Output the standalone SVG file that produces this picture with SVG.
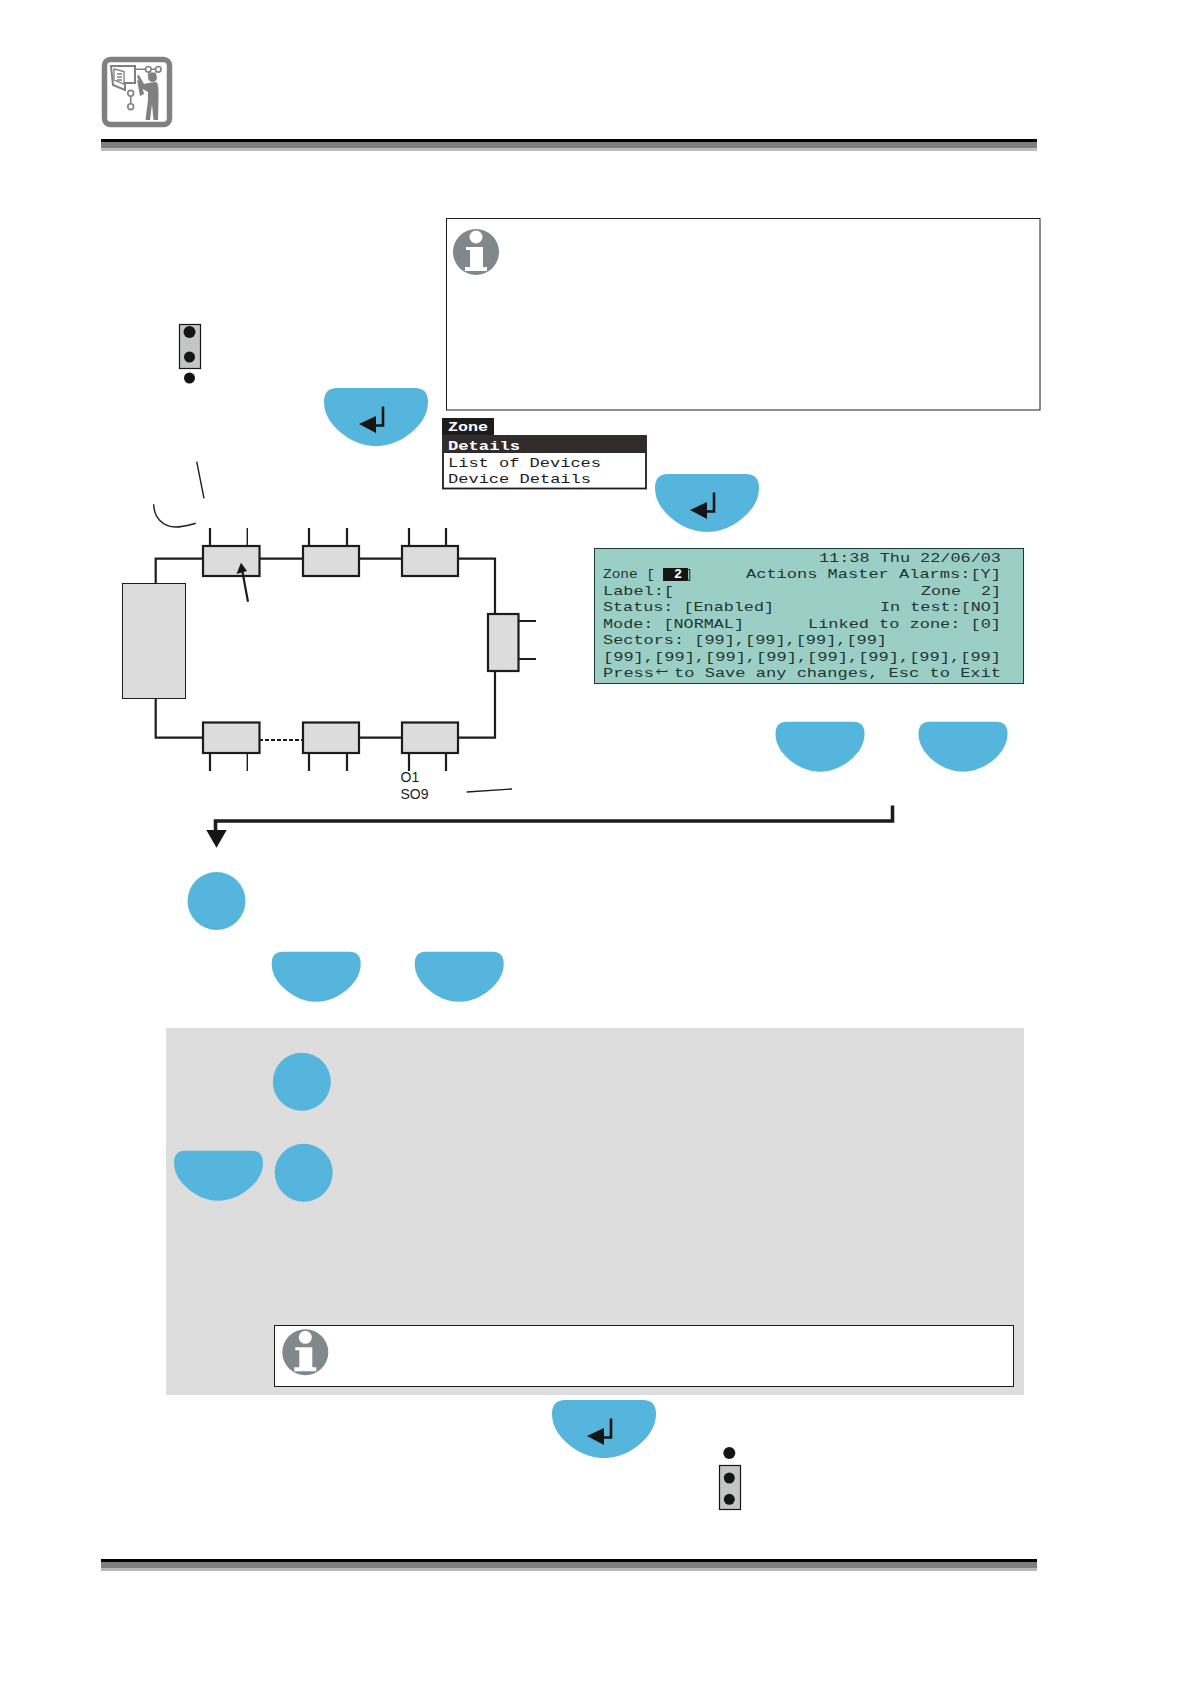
<svg xmlns="http://www.w3.org/2000/svg" width="1190" height="1684" viewBox="0 0 1190 1684">
<style>
.blue{fill:#56b5dc}
.dev{fill:#dcdcdc;stroke:#1c1c1c;stroke-width:2.2}
.wire{fill:none;stroke:#1c1c1c;stroke-width:2.200}
.thin{fill:none;stroke:#1c1c1c;stroke-width:1.400}
.box{fill:#fff;stroke:#1c1c1c;stroke-width:1}
.dot{fill:#151515}
.jump{fill:#c4c6c6;stroke:#151515;stroke-width:1.200}
.m{font-family:"Liberation Mono","DejaVu Sans Mono",monospace;font-size:13.500px;fill:#fff;font-weight:bold}
.l{font-family:"Liberation Mono","DejaVu Sans Mono",monospace;font-size:13px;fill:#1e3532;white-space:pre}
.k{fill:#1c1c1c}
.s{font-family:"Liberation Sans",Arial,sans-serif;font-size:14px;fill:#1c1c1c}
</style>
<defs>
<path id="btn" class="blue" d="M13 0H91Q104 0 104 14Q104 24 98 33C87 48 70 58 52 58C34 58 17 48 6 33Q0 24 0 14Q0 0 13 0Z"/>
<g id="enter"><path d="M59 18.500V37.500H43" fill="none" stroke="#151515" stroke-width="2.600"/><path d="M35 36L52 28V45Z" fill="#151515"/></g>
<g id="info"><circle r="23" fill="#80888b"/><circle cy="-15" r="6.500" fill="#fff"/><path d="M-10-5H7V15H11V19H-11V15H-6V-2H-10Z" fill="#fff"/></g>
</defs>

<g id="header">
<rect x="101" y="139" width="936" height="3.500" fill="#000"/><rect x="101" y="142.500" width="936" height="5.500" fill="#7f7f7f"/><rect x="101" y="148" width="936" height="3" fill="#bdbdbd"/>
</g>
<g id="footer">
<rect x="101" y="1559" width="936" height="3" fill="#000"/><rect x="101" y="1562" width="936" height="6" fill="#7f7f7f"/><rect x="101" y="1568" width="936" height="3" fill="#b8b8b8"/>
</g>

<g id="service-icon">
<rect x="104.500" y="59.500" width="65" height="65" rx="6" fill="#fff" stroke="#808080" stroke-width="5.500"/>
<g fill="none" stroke="#808080" stroke-width="1.600">
<path d="M136 69.300H145.500M151 69.300H155.500M130.700 90V90.500M130.700 96.500V103.500"/>
<circle cx="148.300" cy="69.300" r="2.800"/><circle cx="158.300" cy="69.300" r="2.800"/><circle cx="130.700" cy="93.300" r="2.900"/><circle cx="130.700" cy="106.700" r="2.900"/>
<path d="M111 66H135V83H125V90L113 85Z" stroke-width="2"/>
<path d="M114 69L124 71.500V84L114 80ZM117 74H122M117 77H122M117 80H122" stroke-width="1.300"/>
</g>
<g fill="#808080">
<circle cx="152.500" cy="77.500" r="4.500"/><path d="M147 75.500L149 72.500H156V75.500Z"/>
<path d="M148 83L156.500 82Q159 84 158.500 100L158 120H153.500L152 104L150 120H145.500L148 100V92L141 88L137 76L139 75L144 84Z"/>
<path d="M137 80L141 82L144 94L140 96Z"/>
</g>
</g>

<g id="note-box-1"><rect class="box" x="446.500" y="218.500" width="593.500" height="191.500"/><use href="#info" x="476" y="252"/></g>

<g id="jumper-1"><rect class="jump" x="179.500" y="324.500" width="21" height="44"/><circle class="dot" cx="189.500" cy="332" r="6"/><circle class="dot" cx="189.500" cy="357" r="5.500"/><circle class="dot" cx="189.500" cy="378" r="5.500"/></g>

<g id="enter-button-1" transform="translate(324 388)"><use href="#btn"/><use href="#enter"/></g>
<g id="enter-button-2" transform="translate(655 474)"><use href="#btn"/><use href="#enter"/></g>
<g id="enter-button-3" transform="translate(552 1400)"><use href="#btn"/><use href="#enter"/></g>

<g id="zone-menu">
<rect x="442" y="418" width="52" height="17" fill="#1c1c1c"/>
<rect x="443" y="436" width="203" height="52.500" fill="#fff" stroke="#1c1c1c" stroke-width="1.800"/>
<rect x="443" y="436" width="203" height="17" fill="#302c2c"/>
<text class="m" x="448" y="431" textLength="40" lengthAdjust="spacingAndGlyphs">Zone</text>
<text class="m" x="448" y="449.500" textLength="72" lengthAdjust="spacingAndGlyphs">Details</text>
<text class="l k" x="448" y="466.500" textLength="153" lengthAdjust="spacingAndGlyphs">List of Devices</text>
<text class="l k" x="448" y="483" textLength="143" lengthAdjust="spacingAndGlyphs">Device Details</text>
</g>

<g id="lcd">
<rect x="594.500" y="548.500" width="429" height="135" fill="#9bcfc6" stroke="#1c3a36" stroke-width="1"/>
<rect x="663" y="568" width="25" height="13" fill="#151515"/>
<text class="l" x="819" y="561.500" textLength="182" lengthAdjust="spacingAndGlyphs">11:38 Thu 22/06/03</text>
<text class="l" x="603" y="578" textLength="52" lengthAdjust="spacingAndGlyphs">Zone [</text>
<text class="m" x="674" y="578">2</text>
<text class="l" x="685" y="578">]</text>
<text class="l" x="746" y="578" textLength="255" lengthAdjust="spacingAndGlyphs">Actions Master Alarms:[Y]</text>
<text class="l" x="603" y="594.500" textLength="71" lengthAdjust="spacingAndGlyphs">Label:[</text>
<text class="l" x="921" y="594.500" textLength="80" lengthAdjust="spacingAndGlyphs">Zone  2]</text>
<text class="l" x="603" y="611" textLength="171" lengthAdjust="spacingAndGlyphs">Status: [Enabled]</text>
<text class="l" x="880" y="611" textLength="121" lengthAdjust="spacingAndGlyphs">In test:[NO]</text>
<text class="l" x="603" y="627.500" textLength="141" lengthAdjust="spacingAndGlyphs">Mode: [NORMAL]</text>
<text class="l" x="808" y="627.500" textLength="193" lengthAdjust="spacingAndGlyphs">Linked to zone: [0]</text>
<text class="l" x="603" y="644" textLength="284" lengthAdjust="spacingAndGlyphs">Sectors: [99],[99],[99],[99]</text>
<text class="l" x="603" y="660.500" textLength="398" lengthAdjust="spacingAndGlyphs">[99],[99],[99],[99],[99],[99],[99],[99]</text>
<text class="l" x="603" y="676.500" textLength="51" lengthAdjust="spacingAndGlyphs">Press</text>
<path d="M657 671.500H667V670M660 669L656.500 671.500L660 674" fill="none" stroke="#1e3532" stroke-width="1"/>
<text class="l" x="674" y="676.500" textLength="327" lengthAdjust="spacingAndGlyphs">to Save any changes, Esc to Exit</text>
</g>

<g id="control-panel"><rect x="122.500" y="583.500" width="63" height="115" fill="#dcdcdc" stroke="#1c1c1c" stroke-width="1"/></g>
<g id="device-1"><rect class="dev" x="203" y="546" width="56.500" height="30"/></g>
<g id="device-2"><rect class="dev" x="303" y="546" width="56" height="30"/></g>
<g id="device-3"><rect class="dev" x="402" y="546" width="56" height="30"/></g>
<g id="device-4"><rect class="dev" x="488" y="614" width="30.500" height="57"/></g>
<g id="device-5"><rect class="dev" x="402" y="722.500" width="56" height="30.500"/></g>
<g id="device-6"><rect class="dev" x="303" y="722.500" width="56" height="30.500"/></g>
<g id="device-7"><rect class="dev" x="203" y="722.500" width="56.500" height="30.500"/></g>
<g id="device-labels"><text class="s" x="400.500" y="782">O1</text><text class="s" x="400.500" y="798.500">SO9</text></g>

<g id="connectors">
<path class="wire" d="M155.700 583V558.700H203M260 558.700H303M359 558.700H402M458 558.700H495V614M495 671V737.700H458M402 737.700H359M203 737.700H155.700V699"/>
<path d="M259 740H303" fill="none" stroke="#1c1c1c" stroke-width="1.800" stroke-dasharray="4 2"/>
<path class="wire" d="M210 528V546M309 528V546M347 528V546M409 528V546M446 528V546M210 753V771M309 753V771M347 753V771M409 753V771M446 753V771M519 621H536M519 659H536"/>
<path class="thin" d="M247.300 528V546M247.300 753V771"/>
<path class="thin" d="M196.700 461.700L204 498.300M466.700 792L512 789M153.700 504.300C154 518 163 527 176 527C183 527 189 525 195.700 523.300"/>
<path class="wire" d="M248 601.700L242.500 572" stroke-width="1.600"/>
<path d="M241 562.700L236.500 574L247 571Z" fill="#151515"/>
<path d="M892.500 805.500V821H215.500V831" fill="none" stroke="#1c1c1c" stroke-width="3.600"/>
<path d="M206.300 830H226.700L216.500 847.700Z" fill="#151515"/>
</g>

<g id="button-a" transform="translate(775.500 721.700) scale(.856 .862)"><use href="#btn"/></g>
<g id="button-b" transform="translate(918.500 721.700) scale(.856 .862)"><use href="#btn"/></g>
<g id="step-circle-1"><circle class="blue" cx="216.500" cy="901" r="29"/></g>
<g id="button-c" transform="translate(271.700 951.700) scale(.856 .862)"><use href="#btn"/></g>
<g id="button-d" transform="translate(414.700 951.700) scale(.856 .862)"><use href="#btn"/></g>

<g id="grey-panel"><rect x="166" y="1028" width="858" height="367" fill="#dddddd"/></g>
<g id="step-circle-2"><circle class="blue" cx="301.800" cy="1081.800" r="29"/></g>
<g id="button-e" transform="translate(174 1150.700) scale(.856 .862)"><use href="#btn"/></g>
<g id="step-circle-3"><circle class="blue" cx="303.700" cy="1172.700" r="29"/></g>
<g id="note-box-2"><rect class="box" x="274.500" y="1325.500" width="739" height="61"/><use href="#info" x="305.300" y="1352.300"/></g>

<g id="jumper-2"><circle class="dot" cx="729.300" cy="1453" r="6"/><rect class="jump" x="719.500" y="1465.500" width="21" height="44"/><circle class="dot" cx="729.300" cy="1478" r="5.500"/><circle class="dot" cx="729.300" cy="1499.300" r="5.500"/></g>
</svg>
